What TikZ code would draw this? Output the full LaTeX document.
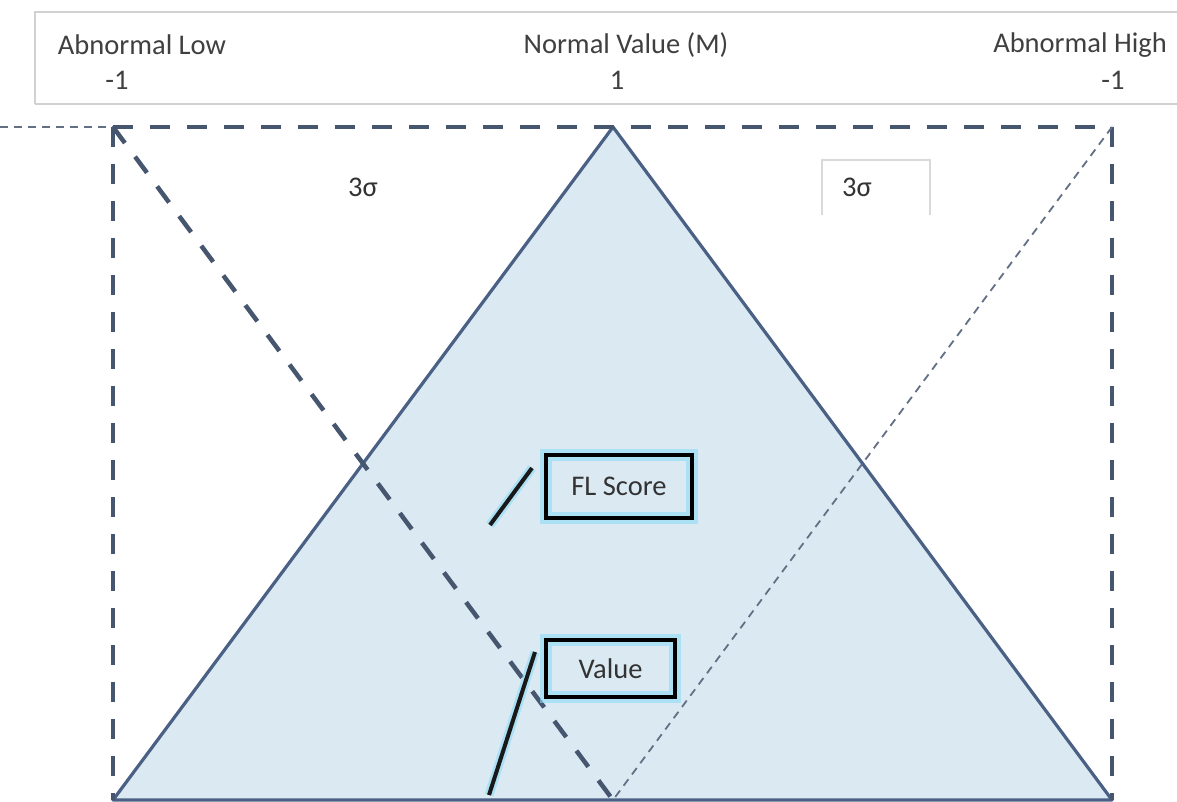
\documentclass[tikz,border=0pt]{standalone}
\usepackage{fontspec}
\setmainfont{Carlito}
\begin{document}
\begin{tikzpicture}[x=1pt,y=-1pt,
  lbl/.style={inner sep=0pt,text=black!75,font=\fontsize{28.5}{30}\selectfont},
  thickdash/.style={draw=dashc,line width=4.5pt,dash pattern=on 20pt off 17pt},
  thindash/.style={draw=dashc!85,line width=1.8pt,dash pattern=on 8pt off 6pt},
  scorebox/.style={draw=black,line width=4pt,minimum width=#1,inner sep=0pt,font=\fontsize{28.5}{30}\selectfont,text=black!80},
  pointer/.style={draw=black!90,line width=4pt},
  glow/.style={draw=cyan!45,line width=12pt,opacity=0.6}]
\definecolor{dashc}{HTML}{46566F}
\definecolor{trifill}{HTML}{DBEAF2}
\definecolor{tristroke}{HTML}{4A6085}
\useasboundingbox (0,0) rectangle (1177,802);
\fill[white] (0,0) rectangle (1177,802);
% header
\draw[black!18,line width=1.5pt] (35,104) -- (35,12) -- (1177,12);
\draw[black!18,line width=1.5pt] (35,104) -- (1177,104);
\node[lbl,anchor=center] (alow) at (142,45) {Abnormal Low};
\node[lbl] (alowv) at (117,80) {-1};
\node[lbl] (norm) at (626,45) {Normal Value (M)};
\node[lbl] (normv) at (617,80) {1};
\node[lbl] (ahigh) at (1080,45) {Abnormal High};
\node[lbl] (ahighv) at (1113,80) {-1};
% coordinates
\coordinate (TL) at (113,127);
\coordinate (TR) at (1112,127);
\coordinate (BL) at (113,800);
\coordinate (BR) at (1112,800);
\coordinate (AP) at (613,127);
\coordinate (BM) at (613,800);
\coordinate (LE) at (0,127);
% triangle
\filldraw[fill=trifill,draw=tristroke,line width=3.2pt,line join=round] (BL) -- (AP) -- (BR) -- cycle;
% dashed frame
\draw[thickdash] (TL) -- (TR);
\draw[thickdash] (TL) -- (BL);
\draw[thickdash] (TR) -- (BR);
\draw[thindash] (LE) -- (TL);
\draw[thickdash] (TL) -- (BM);
\draw[thindash] (TR) -- (BM);
% 3 sigma labels
\draw[black!15,line width=1.2pt] (822,215) -- (822,160) -- (930,160) -- (930,215);
\node[lbl,text=black!80] (s1) at (363,187) {3σ};
\node[lbl,text=black!80] (s2) at (857,187) {3σ};
% FL Score
\draw[glow] (546,455) rectangle (692,518);
\node[scorebox=146pt,minimum height=63pt] (fl) at (619,486.5) {FL Score};
\coordinate (fla) at (490,525);
\coordinate (flb) at (532,468);
\draw[glow,line width=9pt] (fla) -- (flb);
\draw[pointer] (fla) -- (flb);
% Value
\draw[glow] (546,640) rectangle (675,697);
\node[scorebox=129pt,minimum height=57pt] (val) at (610.5,668.5) {Value};
\coordinate (va) at (489,795);
\coordinate (vb) at (535,652);
\draw[glow,line width=9pt] (va) -- (vb);
\draw[pointer] (va) -- (vb);
\end{tikzpicture}
\end{document}
